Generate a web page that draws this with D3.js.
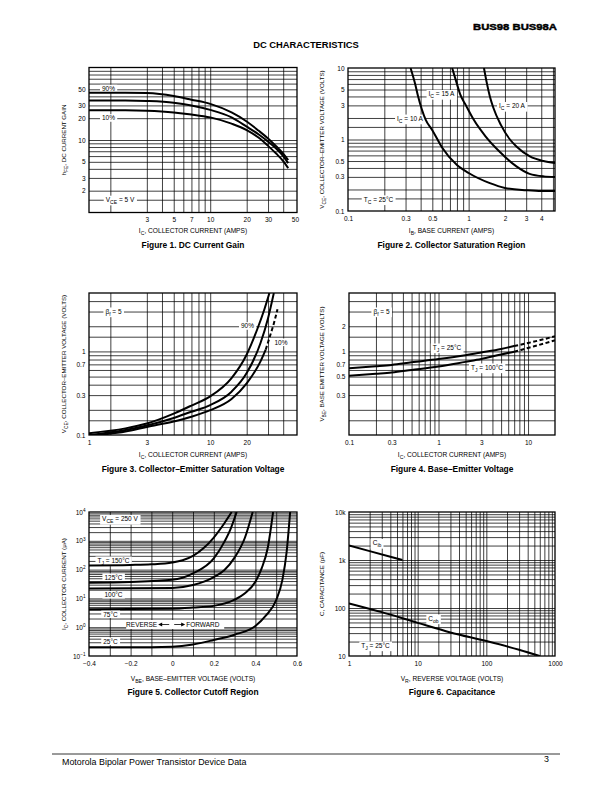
<!DOCTYPE html>
<html><head><meta charset="utf-8">
<script src="https://cdn.jsdelivr.net/npm/d3@7"></script>
<style>
body{margin:0;background:#fff}
svg{display:block}
text{font-family:"Liberation Sans",Arial,Helvetica,sans-serif;fill:#000}
</style>
</head><body>
<svg id="page" width="612" height="792"></svg>
<script>
// ================= DATA =================
// Figure 1 — DC current gain
const fig1Ic      = [1, 2, 3, 5, 7, 10, 15, 20, 25, 30, 35, 40, 44];
const fig1Hfe90   = [45, 45, 44.5, 40.5, 36, 31.5, 24, 18, 13.5, 10.5, 8.2, 6.5, 5.3];
const fig1HfeTyp  = [35, 35, 34.5, 32.7, 30, 26, 20.5, 15.3, 12, 9.5, 7.6, 6, 4.8];
const fig1Hfe10   = [25.7, 25.7, 25.3, 24, 22.5, 20.5, 16.8, 13.7, 10.8, 8.3, 6.5, 5.1, 4.1];
const fig1XTicks  = [3, 5, 7, 10, 20, 30, 50];
const fig1XLabels = ["3", "5", "7", "10", "20", "30", "50"];
const fig1YTicks  = [2, 3, 5, 10, 20, 30, 50];
const fig1YLabels = ["2", "3", "5", "10", "20", "30", "50"];

// Figure 2 — collector saturation region
const fig2Ib10  = [0.33, 0.36, 0.38, 0.44, 0.5, 0.6, 0.8, 1, 1.5, 2, 3, 4, 5.2];
const fig2Vce10 = [10, 6, 4.1, 1.9, 1.35, 0.78, 0.44, 0.34, 0.245, 0.21, 0.195, 0.19, 0.19];
const fig2Ib15  = [0.73, 0.8, 0.85, 0.95, 1.1, 1.38, 1.8, 2.49, 3.2, 4.2, 5.2];
const fig2Vce15 = [10, 6, 4.3, 3.0, 1.9, 1.11, 0.68, 0.42, 0.33, 0.305, 0.3];
const fig2Ib20  = [1.34, 1.42, 1.5, 1.6, 1.85, 2.2, 2.49, 3.22, 4.17, 5.2];
const fig2Vce20 = [10, 6, 4, 2.8, 1.6, 1.0, 0.8, 0.58, 0.5, 0.47];
const fig2XTicks  = [0.1, 0.3, 0.5, 1, 2, 3, 4];
const fig2XLabels = ["0.1", "0.3", "0.5", "1", "2", "3", "4"];
const fig2YTicks  = [0.1, 0.3, 0.5, 1, 3, 5, 10];
const fig2YLabels = ["0.1", "0.3", "0.5", "1", "3", "5", "10"];

// Figure 3 — collector-emitter saturation voltage
const fig3Ic90   = [1, 2, 3, 5, 7, 10, 15, 20, 24.4, 28, 30.8];
const fig3Vce90  = [0.105, 0.12, 0.137, 0.18, 0.225, 0.29, 0.48, 0.92, 1.83, 3.2, 5];
const fig3IcTyp  = [1, 2, 3, 5, 7, 10, 15, 20, 26, 30, 33.5];
const fig3VceTyp = [0.1, 0.115, 0.13, 0.16, 0.19, 0.228, 0.33, 0.55, 1.26, 2.5, 5];
const fig3Ic10   = [1, 2, 3, 5, 7, 10, 15, 20, 26, 28.7];
const fig3Vce10  = [0.098, 0.11, 0.125, 0.145, 0.165, 0.198, 0.27, 0.415, 0.76, 1.05];
const fig3Ic10Dash  = [28.7, 31, 33, 35.9];
const fig3Vce10Dash = [1.05, 1.5, 2.0, 3.2];
const fig3XTicks  = [1, 3, 10, 20];
const fig3XLabels = ["1", "3", "10", "20"];
const fig3YTicks  = [0.1, 0.3, 0.7, 1];
const fig3YLabels = ["0.1", "0.3", "0.7", "1"];

// Figure 4 — base-emitter voltage
const fig4Ic       = [0.1, 0.2, 0.3, 0.5, 1, 2, 3, 5, 7];
const fig4Vbe25    = [0.63, 0.665, 0.69, 0.74, 0.81, 0.9, 0.97, 1.07, 1.16];
const fig4Vbe100   = [0.51, 0.54, 0.56, 0.6, 0.66, 0.75, 0.81, 0.92, 0.99];
const fig4IcDash   = [7, 10, 15, 20];
const fig4Vbe25Dash  = [1.16, 1.26, 1.4, 1.52];
const fig4Vbe100Dash = [0.99, 1.1, 1.24, 1.36];
const fig4XTicks  = [0.1, 0.3, 1, 3, 10];
const fig4XLabels = ["0.1", "0.3", "1", "3", "10"];
const fig4YTicks  = [0.3, 0.5, 0.7, 1, 2];
const fig4YLabels = ["0.3", "0.5", "0.7", "1", "2"];

// Figure 5 — collector cutoff region (µA)
const fig5V150  = [-0.4, -0.2, -0.1, 0, 0.05, 0.1, 0.15, 0.2, 0.25, 0.286];
const fig5I150  = [140, 145, 152, 175, 210, 300, 550, 1300, 4000, 10000];
const fig5V125  = [-0.4, -0.2, 0, 0.1, 0.2, 0.25, 0.28, 0.31];
const fig5I125  = [35, 37, 44, 74, 245, 900, 2500, 10000];
const fig5V100  = [-0.4, 0, 0.1, 0.2, 0.25, 0.3, 0.35, 0.387];
const fig5I100  = [22, 23, 29, 55, 95, 260, 1300, 10000];
const fig5V75   = [-0.4, 0, 0.1, 0.2, 0.3, 0.35, 0.4, 0.43, 0.46, 0.485];
const fig5I75   = [4.2, 4.4, 4.8, 5.5, 9, 15, 38, 110, 600, 10000];
const fig5V25   = [-0.4, -0.2, 0, 0.1, 0.2, 0.3, 0.4, 0.45, 0.5, 0.53, 0.55, 0.567];
const fig5I25   = [0.2, 0.2, 0.21, 0.25, 0.36, 0.55, 1.1, 2.5, 8.8, 45, 400, 10000];
const fig5XTicks  = [-0.4, -0.2, 0, 0.2, 0.4, 0.6];
const fig5XLabels = ["\u22120.4", "\u22120.2", "0", "0.2", "0.4", "0.6"];
const fig5YTicks  = [0.1, 1, 10, 100, 1000, 10000];
const fig5YLabels = ["10^{\u22121}", "10^{0}", "10^{1}", "10^{2}", "10^{3}", "10^{4}"];

// Figure 6 — capacitance
const fig6VrIb = [1, 2, 4, 6];
const fig6Cib  = [2000, 1530, 1170, 1000];
const fig6VrOb = [1, 3, 10, 30, 100, 300, 600];
const fig6Cob  = [125, 82, 49, 31, 20.5, 13.5, 10];
const fig6XTicks  = [1, 10, 100, 1000];
const fig6XLabels = ["1", "10", "100", "1000"];
const fig6YTicks  = [10, 100, 1000, 10000];
const fig6YLabels = ["10", "100", "1k", "10k"];

// ================= HELPERS =================
const svg = d3.select("#page");
const FONT = '"Liberation Sans", Arial, Helvetica, sans-serif';
const TICK_FS = 6.5, TITLE_FS = 6.6;
const zip = (a, b) => a.map((v, i) => [v, b[i]]);

function logGrid(lo, hi, extra = []) {
  const out = [];
  for (let e = -3; e <= 5; e++) {
    for (let m = 1; m <= 9; m++) {
      const v = +(m * Math.pow(10, e)).toPrecision(6);
      if (v > lo * 1.0001 && v < hi * 0.9999) out.push(v);
    }
  }
  extra.forEach(v => { if (v > lo && v < hi) out.push(v); });
  return out.sort((a, b) => a - b);
}

function richText(t, str, fs) {
  const parts = str.split(/(_\{[^}]*\}|\^\{[^}]*\})/).filter(s => s.length);
  let shift = 0;
  parts.forEach(p => {
    const ts = t.append("tspan");
    let dy;
    if (p.startsWith("_{")) {
      const s = fs * 0.32;
      ts.text(p.slice(2, -1)).attr("font-size", fs * 0.78);
      dy = s - shift; shift = s;
    } else if (p.startsWith("^{")) {
      const s = -fs * 0.42;
      ts.text(p.slice(2, -1)).attr("font-size", fs * 0.72);
      dy = s - shift; shift = s;
    } else {
      ts.text(p);
      dy = -shift; shift = 0;
    }
    if (Math.abs(dy) > 1e-6) ts.attr("dy", dy);
  });
}

function boxedLabel(g, x, y, str, fs) {
  const t = g.append("text").attr("x", x).attr("y", y + fs * 0.35)
    .attr("text-anchor", "middle").attr("font-size", fs);
  richText(t, str, fs);
  const bb = t.node().getBBox();
  g.insert("rect", () => t.node())
    .attr("x", bb.x - 2).attr("y", bb.y - 0.3)
    .attr("width", bb.width + 4).attr("height", bb.height + 0.6)
    .attr("fill", "#fff");
  return t;
}

let clipId = 0;
function panel(p) {
  const g = svg.append("g");
  const [xl, xr] = p.x.range();
  const [yb, yt] = p.y.range();
  const w = xr - xl, h = yb - yt;

  // grid lines (via axes)
  g.append("g").attr("transform", `translate(0,${yb})`)
    .call(d3.axisBottom(p.x).tickValues(p.xGrid).tickSize(-h).tickFormat(""))
    .call(a => a.select(".domain").remove())
    .call(a => a.selectAll("line").attr("stroke", "#000").attr("stroke-width", 0.75));
  g.append("g").attr("transform", `translate(${xl},0)`)
    .call(d3.axisLeft(p.y).tickValues(p.yGrid).tickSize(-w).tickFormat(""))
    .call(a => a.select(".domain").remove())
    .call(a => a.selectAll("line").attr("stroke", "#000").attr("stroke-width", 0.75));

  // tick labels
  const xa = g.append("g").attr("transform", `translate(0,${yb})`)
    .call(d3.axisBottom(p.x).tickValues(p.xTicks).tickSize(0).tickPadding(5)
      .tickFormat((d, i) => p.xLabels[i]));
  xa.select(".domain").remove();
  xa.attr("font-family", FONT).attr("font-size", TICK_FS);

  const ya = g.append("g").attr("transform", `translate(${xl},0)`)
    .call(d3.axisLeft(p.y).tickValues(p.yTicks).tickSize(0).tickPadding(3.5)
      .tickFormat((d, i) => p.yLabels[i]));
  ya.select(".domain").remove();
  ya.attr("font-family", FONT).attr("font-size", TICK_FS);
  ya.selectAll("text").each(function () {
    const s = d3.select(this);
    const txt = s.text();
    if (txt.includes("^{")) { s.text(""); richText(s, txt, TICK_FS); }
  });

  // axis titles
  const xt = g.append("text").attr("x", (xl + xr) / 2).attr("y", p.xTitleY)
    .attr("text-anchor", "middle").attr("font-size", TITLE_FS);
  richText(xt, p.xTitle, TITLE_FS);
  const ytt = g.append("text")
    .attr("transform", `translate(${p.yTitleX},${(yb + yt) / 2}) rotate(-90)`)
    .attr("text-anchor", "middle").attr("font-size", 6.2);
  richText(ytt, p.yTitle, 6.2);

  // caption
  g.append("text").attr("x", (xl + xr) / 2).attr("y", p.captionY)
    .attr("text-anchor", "middle").attr("font-size", 8.4).attr("font-weight", "bold")
    .text(p.caption);

  // annotations
  (p.labels || []).forEach(l => boxedLabel(g, l[0], l[1], l[2], TICK_FS));

  // curves
  const id = "clip" + (clipId++);
  g.append("clipPath").attr("id", id).append("rect")
    .attr("x", xl).attr("y", yt).attr("width", w).attr("height", h);
  const line = d3.line().x(d => p.x(d[0])).y(d => p.y(d[1])).curve(d3.curveMonotoneX);
  const cg = g.append("g").attr("clip-path", `url(#${id})`);
  p.series.forEach(s => {
    cg.append("path").attr("d", line(s.pts)).attr("fill", "none")
      .attr("stroke", "#000").attr("stroke-width", 2)
      .attr("stroke-dasharray", s.dash ? "4,2.5" : null);
  });

  if (p.extra) p.extra(g);

  // frame
  g.append("rect").attr("x", xl).attr("y", yt).attr("width", w).attr("height", h)
    .attr("fill", "none").attr("stroke", "#000").attr("stroke-width", 1.3);
}

// ================= PAGE TEXT =================
svg.append("text").attr("x", 557).attr("y", 29.5).attr("text-anchor", "end")
  .attr("font-size", 9.6).attr("font-weight", "bold")
  .attr("stroke", "#000").attr("stroke-width", 0.45)
  .attr("textLength", 84).attr("lengthAdjust", "spacingAndGlyphs")
  .text("BUS98 BUS98A");
svg.append("text").attr("x", 306).attr("y", 48).attr("text-anchor", "middle")
  .attr("font-size", 9.4).attr("font-weight", "bold").text("DC CHARACTERISTICS");
svg.append("line").attr("x1", 52).attr("x2", 560).attr("y1", 754).attr("y2", 754)
  .attr("stroke", "#000").attr("stroke-width", 0.8);
svg.append("text").attr("x", 62).attr("y", 765).attr("font-size", 8.9)
  .text("Motorola Bipolar Power Transistor Device Data");
svg.append("text").attr("x", 549).attr("y", 762).attr("text-anchor", "end")
  .attr("font-size", 8.9).text("3");

// ================= PANELS =================
// Figure 1
panel({
  x: d3.scaleLog().domain([1, 52]).range([89, 297]),
  y: d3.scaleLog().domain([1, 100]).range([212.5, 67.5]),
  xGrid: [1.5, 3, 4, 5, 6, 7, 8, 9, 10, 20, 30, 40],
  yGrid: logGrid(1, 100, [1.5]),
  xTicks: fig1XTicks, xLabels: fig1XLabels,
  yTicks: fig1YTicks, yLabels: fig1YLabels,
  xTitle: "I_{C}, COLLECTOR CURRENT (AMPS)", xTitleY: 233,
  yTitle: "h_{FE}, DC CURRENT GAIN", yTitleX: 66,
  caption: "Figure 1. DC Current Gain", captionY: 248,
  labels: [[108.5, 88.8, "90%"], [108.5, 118.2, "10%"], [120, 199.7, "V_{CE} = 5 V"]],
  series: [{pts: zip(fig1Ic, fig1Hfe90)}, {pts: zip(fig1Ic, fig1HfeTyp)}, {pts: zip(fig1Ic, fig1Hfe10)}]
});

// Figure 2
panel({
  x: d3.scaleLog().domain([0.1, 5.2]).range([348, 555]),
  y: d3.scaleLog().domain([0.1, 10]).range([211, 68]),
  xGrid: logGrid(0.1, 5.2),
  yGrid: logGrid(0.1, 10, [0.15, 1.5]),
  xTicks: fig2XTicks, xLabels: fig2XLabels,
  yTicks: fig2YTicks, yLabels: fig2YLabels,
  xTitle: "I_{B}, BASE CURRENT (AMPS)", xTitleY: 233,
  yTitle: "V_{CE}, COLLECTOR\u2013EMITTER VOLTAGE (VOLTS)", yTitleX: 324,
  caption: "Figure 2. Collector Saturation Region", captionY: 248,
  labels: [[441.5, 94, "I_{C} = 15 A"], [512, 106, "I_{C} = 20 A"], [410, 118.6, "I_{C} = 10 A"], [378.5, 199.4, "T_{C} = 25\u00B0C"]],
  series: [{pts: zip(fig2Ib10, fig2Vce10)}, {pts: zip(fig2Ib15, fig2Vce15)}, {pts: zip(fig2Ib20, fig2Vce20)}]
});

// Figure 3
panel({
  x: d3.scaleLog().domain([1, 52]).range([89, 297]),
  y: d3.scaleLog().domain([0.1, 5]).range([435, 293]),
  xGrid: [1.5, 3, 4, 5, 6, 7, 8, 9, 10, 20, 30, 40],
  yGrid: logGrid(0.1, 5, [0.15, 1.5]),
  xTicks: fig3XTicks, xLabels: fig3XLabels,
  yTicks: fig3YTicks, yLabels: fig3YLabels,
  xTitle: "I_{C}, COLLECTOR CURRENT (AMPS)", xTitleY: 457,
  yTitle: "V_{CE}, COLLECTOR\u2013EMITTER VOLTAGE (VOLTS)", yTitleX: 66,
  caption: "Figure 3. Collector\u2013Emitter Saturation Voltage", captionY: 472,
  labels: [[113.5, 311.5, "\u03B2_{f} = 5"], [247.5, 326.2, "90%"], [281, 342.5, "10%"]],
  series: [{pts: zip(fig3Ic90, fig3Vce90)}, {pts: zip(fig3IcTyp, fig3VceTyp)},
           {pts: zip(fig3Ic10, fig3Vce10)}, {pts: zip(fig3Ic10Dash, fig3Vce10Dash), dash: true}]
});

// Figure 4
panel({
  x: d3.scaleLog().domain([0.1, 20]).range([349, 555]),
  y: d3.scaleLog().domain([0.1, 5]).range([435, 293]),
  xGrid: logGrid(0.1, 20),
  yGrid: logGrid(0.1, 5, [0.15, 1.5]),
  xTicks: fig4XTicks, xLabels: fig4XLabels,
  yTicks: fig4YTicks, yLabels: fig4YLabels,
  xTitle: "I_{C}, COLLECTOR CURRENT (AMPS)", xTitleY: 457,
  yTitle: "V_{BE}, BASE EMITTER VOLTAGE (VOLTS)", yTitleX: 324,
  caption: "Figure 4. Base\u2013Emitter Voltage", captionY: 472,
  labels: [[381.5, 311.5, "\u03B2_{f} = 5"], [447, 347.5, "T_{J} = 25\u00B0C"], [487, 367.5, "T_{J} = 100\u00B0C"]],
  series: [{pts: zip(fig4Ic, fig4Vbe25)}, {pts: zip(fig4Ic, fig4Vbe100)},
           {pts: zip(fig4IcDash, fig4Vbe25Dash), dash: true}, {pts: zip(fig4IcDash, fig4Vbe100Dash), dash: true}]
});

// Figure 5
const fig5x = d3.scaleLinear().domain([-0.4, 0.6]).range([89, 297]);
panel({
  x: fig5x,
  y: d3.scaleLog().domain([0.1, 10000]).range([656, 512]),
  xGrid: d3.range(-3, 6).map(k => k / 10),
  yGrid: logGrid(0.1, 10000),
  xTicks: fig5XTicks, xLabels: fig5XLabels,
  yTicks: fig5YTicks, yLabels: fig5YLabels,
  xTitle: "V_{BE}, BASE\u2013EMITTER VOLTAGE (VOLTS)", xTitleY: 681,
  yTitle: "I_{C}, COLLECTOR CURRENT (\u03BCA)", yTitleX: 66,
  caption: "Figure 5. Collector Cutoff Region", captionY: 695,
  labels: [[120, 519, "V_{CE} = 250 V"], [113.5, 560.5, "T_{J} = 150\u00B0C"], [113.5, 577.5, "125\u00B0C"],
           [113.5, 595, "100\u00B0C"], [110.5, 614.5, "75\u00B0C"], [110.5, 641.5, "25\u00B0C"]],
  series: [{pts: zip(fig5V150, fig5I150)}, {pts: zip(fig5V125, fig5I125)}, {pts: zip(fig5V100, fig5I100)},
           {pts: zip(fig5V75, fig5I75)}, {pts: zip(fig5V25, fig5I25)}],
  extra: g => {
    const yy = 624.5, fs = TICK_FS;
    const x0 = fig5x(0);
    g.append("rect").attr("x", x0 - 46).attr("y", yy - 4.5).attr("width", 98).attr("height", 9).attr("fill", "#fff");
    g.append("text").attr("x", x0 - 15).attr("y", yy + 2.2).attr("text-anchor", "end").attr("font-size", fs).text("REVERSE");
    g.append("text").attr("x", x0 + 14).attr("y", yy + 2.2).attr("text-anchor", "start").attr("font-size", fs).text("FORWARD");
    g.append("line").attr("x1", x0 - 3).attr("x2", x0 - 11).attr("y1", yy).attr("y2", yy).attr("stroke", "#000").attr("stroke-width", 0.8);
    g.append("path").attr("d", `M${x0 - 14},${yy} l4,-2 l0,4 z`).attr("fill", "#000");
    g.append("line").attr("x1", x0 + 2).attr("x2", x0 + 10).attr("y1", yy).attr("y2", yy).attr("stroke", "#000").attr("stroke-width", 0.8);
    g.append("path").attr("d", `M${x0 + 13},${yy} l-4,-2 l0,4 z`).attr("fill", "#000");
  }
});

// Figure 6
panel({
  x: d3.scaleLog().domain([1, 1000]).range([349, 555]),
  y: d3.scaleLog().domain([10, 10000]).range([656, 512]),
  xGrid: logGrid(1, 1000),
  yGrid: logGrid(10, 10000),
  xTicks: fig6XTicks, xLabels: fig6XLabels,
  yTicks: fig6YTicks, yLabels: fig6YLabels,
  xTitle: "V_{R}, REVERSE VOLTAGE (VOLTS)", xTitleY: 681,
  yTitle: "C, CAPACITANCE (pF)", yTitleX: 324,
  caption: "Figure 6. Capacitance", captionY: 695,
  labels: [[377, 543, "C_{ib}"], [433.5, 618.5, "C_{ob}"], [375.5, 645.5, "T_{J} = 25\u00B0C"]],
  series: [{pts: zip(fig6VrIb, fig6Cib)}, {pts: zip(fig6VrOb, fig6Cob)}]
});
</script>
</body></html>
